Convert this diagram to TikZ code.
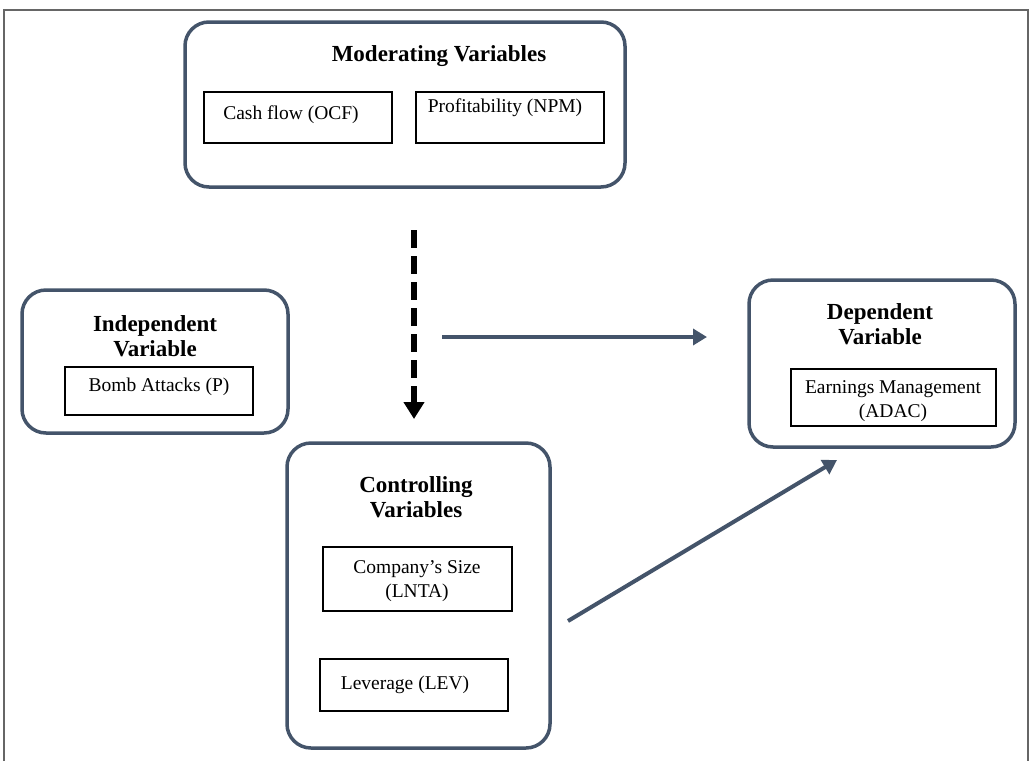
\documentclass[tikz,border=0pt]{standalone}
\usepackage{fontspec}
\setmainfont{Liberation Serif}
\usetikzlibrary{arrows.meta}
\definecolor{slate}{HTML}{44546A}
\tikzset{
  group/.style={draw=slate, line width=3.5pt, rounded corners=24pt},
  item/.style={draw=black, line width=1.2pt},
  title/.style={font=\fontsize{23}{25}\selectfont\bfseries, align=center, inner sep=0pt},
  label/.style={font=\fontsize{19.5}{24}\selectfont, align=center, inner sep=0pt},
  flow/.style={draw=slate, line width=4pt, -{Triangle[length=14pt,width=16pt]}},
  modarrow/.style={draw=black, line width=6pt, dash pattern=on 18pt off 8pt, -{Triangle[length=17pt,width=20pt]}}
}
\begin{document}
\begin{tikzpicture}[x=1pt,y=-1pt]
\useasboundingbox (0,0) rectangle (1033,761);
% outer frame
\draw[gray!80!black, line width=1.5pt] (4,761) -- (4,10) -- (1028,10) -- (1028,761);

% Moderating
\draw[group] (185,22) rectangle (625,187);
\node[title] (modt) at (439,56) {Moderating Variables};
\draw[item] (204,92) rectangle (392,143);
\node[label] (ocf) at (291,115) {Cash flow (OCF)};
\draw[item] (416,92) rectangle (604,143);
\node[label] (npm) at (505,108) {Profitability (NPM)};

% Independent
\draw[group] (22,290) rectangle (288,433);
\node[title] (indt) at (155,336) {Independent\\Variable};
\draw[item] (65,367) rectangle (253,415);
\node[label] (bomb) at (159,387) {Bomb Attacks (P)};

% Dependent
\draw[group] (749,280) rectangle (1015,447);
\node[title] (dept) at (880,324) {Dependent\\Variable};
\draw[item] (791,369) rectangle (996,426);
\node[label] (em) at (893,401) {Earnings Management\\(ADAC)};

% Controlling
\draw[group] (287,443) rectangle (550,748);
\node[title] (ctrt) at (416,497) {Controlling\\Variables};
\draw[item] (323,547) rectangle (512,611);
\node[label] (size) at (417,581) {Company's Size\\(LNTA)};
\draw[item] (320,659) rectangle (508,711);
\node[label] (lev) at (405,685) {Leverage (LEV)};

% arrows
\coordinate (dA) at (414,230);
\coordinate (dB) at (414,419);
\draw[modarrow] (dA) -- (dB);
\coordinate (hA) at (442,337);
\coordinate (hB) at (707,337);
\draw[flow] (hA) -- (hB);
\coordinate (gA) at (568,621);
\coordinate (gB) at (837,460);
\draw[flow] (gA) -- (gB);
\end{tikzpicture}
\end{document}
